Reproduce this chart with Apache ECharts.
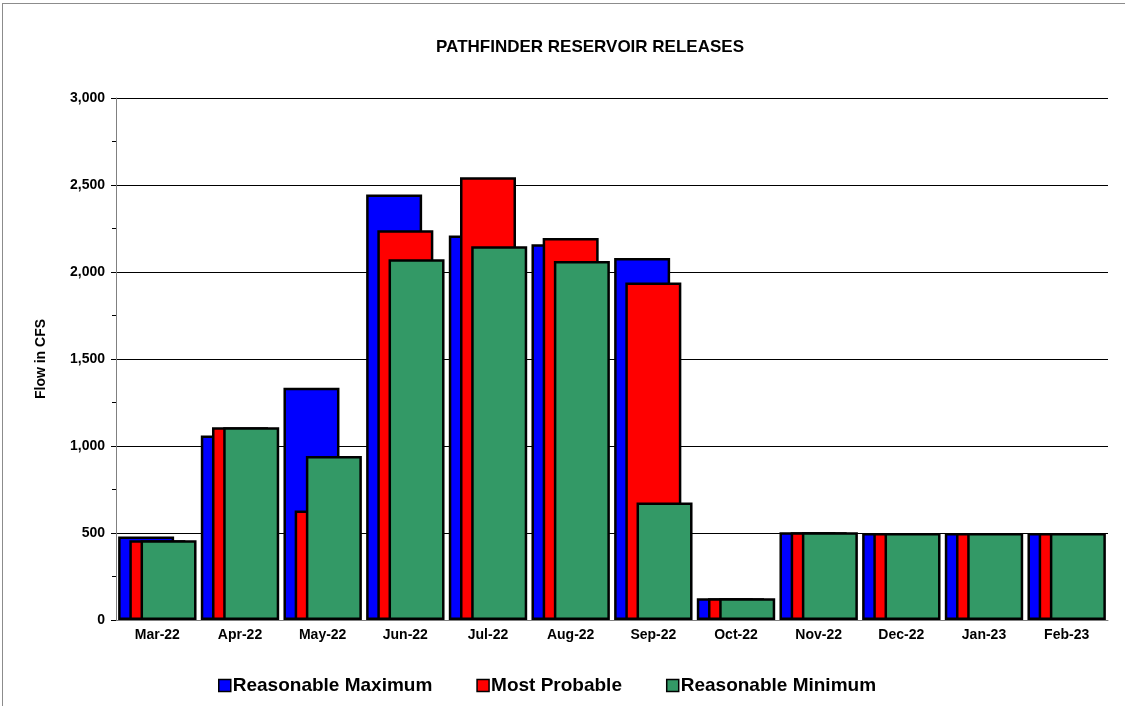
<!DOCTYPE html>
<html>
<head>
<meta charset="utf-8">
<script src="https://cdn.jsdelivr.net/npm/echarts@6/dist/echarts.min.js"></script>
<style>
  html, body { margin: 0; padding: 0; background: #fff; }
  #main {
    position: absolute; left: 2px; top: 3px;
    width: 1123px; height: 703px;
    box-sizing: border-box;
    border-left: 1px solid #8c8c8c;
    border-top: 1px solid #8c8c8c;
  }
</style>
</head>
<body>
<div id="main"></div>
<script>
// months
const months = ["Mar-22", "Apr-22", "May-22", "Jun-22", "Jul-22", "Aug-22",
  "Sep-22", "Oct-22", "Nov-22", "Dec-22", "Jan-23", "Feb-23"];
// flow in cfs
const reasonableMax = [480, 1060, 1335, 2445, 2210, 2160, 2080, 125, 505, 500, 500, 500];
const mostProbable = [458, 1108, 630, 2240, 2545, 2195, 1940, 125, 505, 500, 500, 500];
const reasonableMin = [458, 1108, 942, 2073, 2148, 2063, 675, 125, 505, 500, 500, 500];

const font = "Liberation Sans, Arial, sans-serif";

var chartDom = document.getElementById("main");
var myChart = echarts.init(chartDom);

function barSeries(name, data, color) {
  return {
    name: name,
    type: "bar",
    data: data,
    barWidth: 56,
    barGap: "-80%",
    itemStyle: {
      color: color,
      borderColor: "#000",
      borderWidth: 2.5
    }
  };
}

var option = {
  animation: false,
  title: {
    text: "PATHFINDER RESERVOIR RELEASES",
    left: 582,
    top: 30,
    textAlign: "center",
    textStyle: { fontFamily: font, fontSize: 17, fontWeight: "bold", color: "#000" }
  },
  legend: {
    top: 667,
    left: 210,
    itemGap: 44,
    itemWidth: 12,
    itemHeight: 12,
    icon: "rect",
    textStyle: { fontFamily: font, fontSize: 19, fontWeight: "bold", color: "#000", padding: [0, 0, 0, -3] },
    itemStyle: { borderColor: "#000", borderWidth: 1.5 }
  },
  grid: { left: 113, right: 17, top: 94, bottom: 86 },
  xAxis: {
    type: "category",
    data: months,
    axisLine: { lineStyle: { color: "#808080", width: 1 } },
    axisTick: { alignWithLabel: false, length: 5, lineStyle: { color: "#808080" } },
    axisLabel: { fontFamily: font, fontSize: 14, fontWeight: "bold", color: "#000", margin: 8 }
  },
  yAxis: {
    type: "value",
    min: 0,
    max: 3000,
    interval: 500,
    name: "Flow in CFS",
    nameLocation: "middle",
    nameGap: 68,
    nameTextStyle: { fontFamily: font, fontSize: 14, fontWeight: "bold", color: "#000" },
    axisLine: { show: true, lineStyle: { color: "#808080" } },
    axisTick: { show: true, length: 5, lineStyle: { color: "#000" } },
    minorTick: { show: true, splitNumber: 2, length: 4, lineStyle: { color: "#000" } },
    splitLine: { lineStyle: { color: "#000", width: 1 } },
    axisLabel: {
      fontFamily: font, fontSize: 14, fontWeight: "bold", color: "#000", margin: 11,
      formatter: function (v) { return v.toLocaleString("en-US"); }
    }
  },
  series: [
    barSeries("Reasonable Maximum", reasonableMax, "#0000ff"),
    barSeries("Most Probable", mostProbable, "#ff0000"),
    barSeries("Reasonable Minimum", reasonableMin, "#339966")
  ]
};

option && myChart.setOption(option);
</script>
</body>
</html>
